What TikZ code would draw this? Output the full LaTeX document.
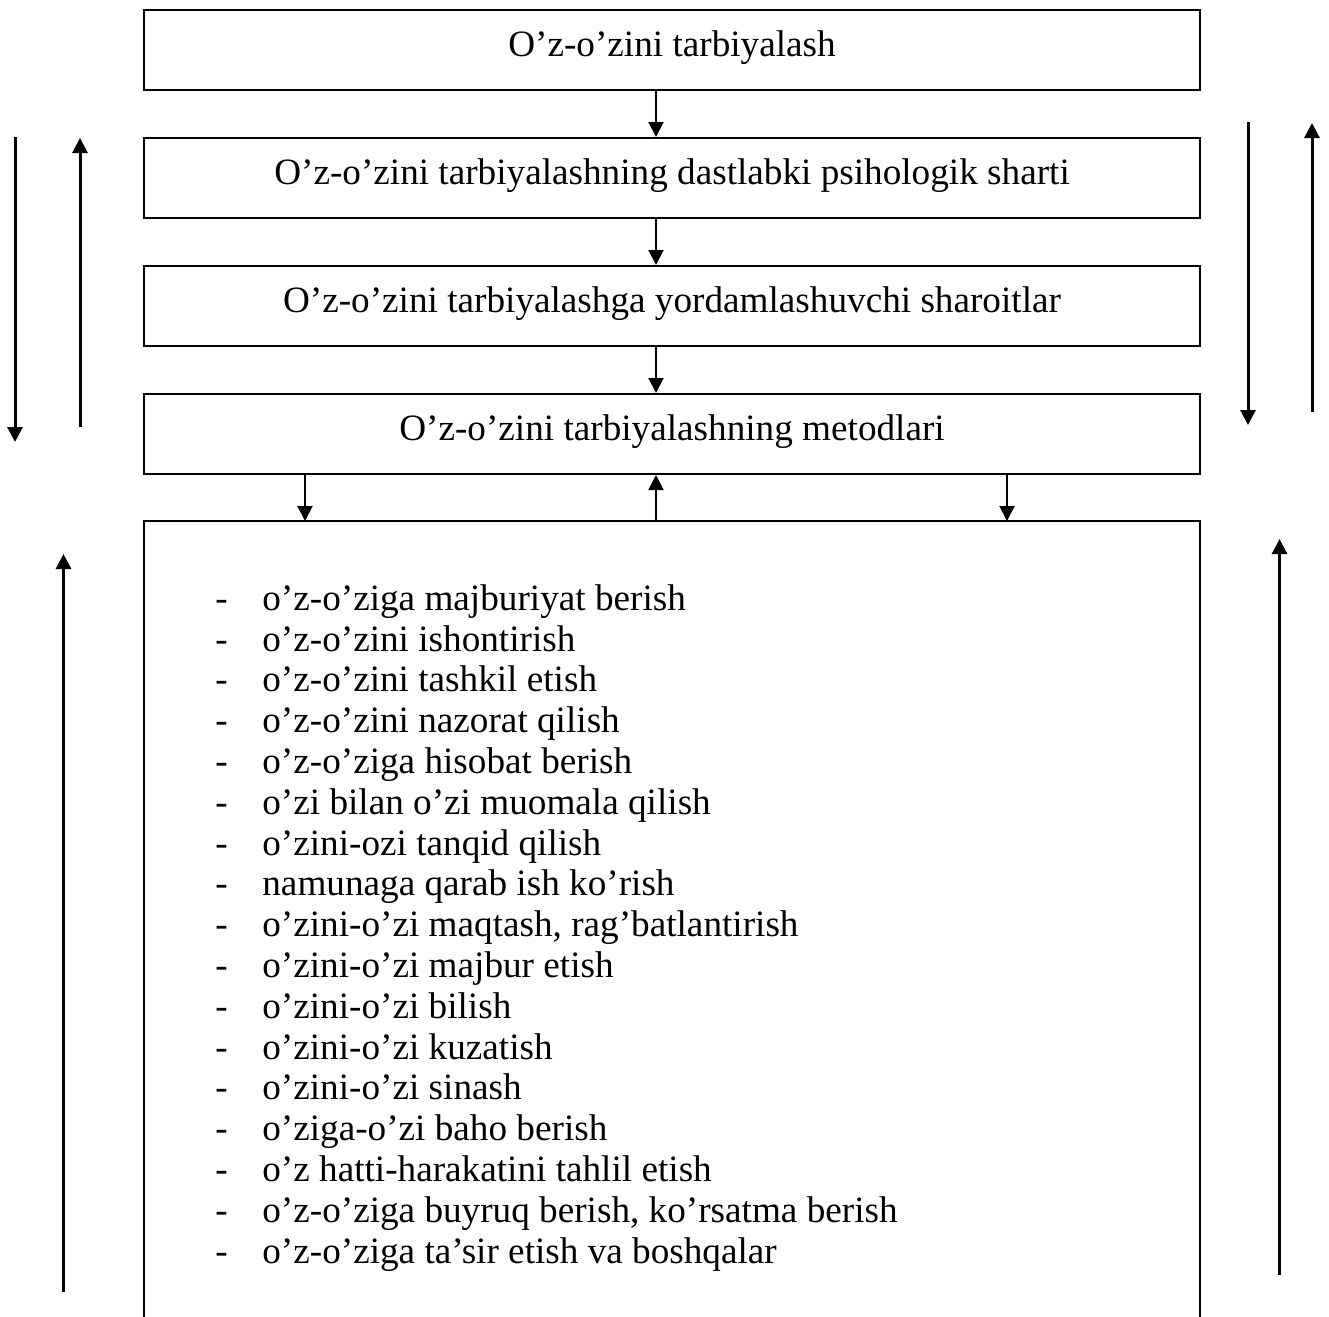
\documentclass[tikz,border=0pt]{standalone}
\usepackage{fontspec}
\setmainfont{Liberation Serif}
\usetikzlibrary{positioning,arrows.meta,calc}
\newcommand{\itm}[1]{\makebox[23.5pt][l]{-}#1}
\tikzset{
  stage/.style={draw, line width=1pt, minimum width=528pt, minimum height=40pt,
                inner sep=0pt, text height=13pt, text depth=7pt,
                font=\fontsize{18.6}{20.4}\selectfont},
  flow/.style={-{Triangle[length=7.5pt,width=7.5pt]}, line width=1pt},
  sideflow/.style={flow, line width=1.5pt},
  lst/.style={align=left, inner sep=0pt, font=\fontsize{18.6}{20.4}\selectfont}
}

\begin{document}
\begin{tikzpicture}[node distance=23pt]
        \useasboundingbox (0,0) rectangle (664.5pt,-658.5pt);
        \node[stage] (tarb) at (336pt,-25pt) {O’z-o’zini tarbiyalash};
        \node[stage, below=of tarb] (shart) {O’z-o’zini tarbiyalashning dastlabki psihologik sharti};
        \node[stage, below=of shart] (sharoit) {O’z-o’zini tarbiyalashga yordamlashuvchi sharoitlar};
        \node[stage, below=of sharoit] (metod) {O’z-o’zini tarbiyalashning metodlari};
        \node[minimum width=528pt, minimum height=397.5pt, inner sep=0pt, below=of metod] (frame) {};
        \draw[line width=1pt] (frame.south west) -- (frame.north west) -- (frame.north east) -- (frame.south east);
        \node[lst, anchor=north west] (items) at (107.5pt,-292pt) {%
          \itm{o’z-o’ziga majburiyat berish}\\
          \itm{o’z-o’zini ishontirish}\\
          \itm{o’z-o’zini tashkil etish}\\
          \itm{o’z-o’zini nazorat qilish}\\
          \itm{o’z-o’ziga hisobat berish}\\
          \itm{o’zi bilan o’zi muomala qilish}\\
          \itm{o’zini-ozi tanqid qilish}\\
          \itm{namunaga qarab ish ko’rish}\\
          \itm{o’zini-o’zi maqtash, rag’batlantirish}\\
          \itm{o’zini-o’zi majbur etish}\\
          \itm{o’zini-o’zi bilish}\\
          \itm{o’zini-o’zi kuzatish}\\
          \itm{o’zini-o’zi sinash}\\
          \itm{o’ziga-o’zi baho berish}\\
          \itm{o’z hatti-harakatini tahlil etish}\\
          \itm{o’z-o’ziga buyruq berish, ko’rsatma berish}\\
          \itm{o’z-o’ziga ta’sir etish va boshqalar}};
        % arrows between the stages
        \draw[flow] ([xshift=-8pt]tarb.south) -- ([xshift=-8pt]shart.north);
        \draw[flow] ([xshift=-8pt]shart.south) -- ([xshift=-8pt]sharoit.north);
        \draw[flow] ([xshift=-8pt]sharoit.south) -- ([xshift=-8pt]metod.north);
        \draw[flow] ([xshift=-183.5pt]metod.south) -- ([xshift=-183.5pt]frame.north);
        \draw[flow] ([xshift=-8pt]frame.north) -- ([xshift=-8pt]metod.south);
        \draw[flow] ([xshift=167.5pt]metod.south) -- ([xshift=167.5pt]frame.north);
        % side arrows
        \coordinate (ldtop) at (7.5pt,-68.5pt);
        \coordinate (ldbot) at (7.5pt,-221pt);
        \coordinate (lutop) at (40pt,-69pt);
        \coordinate (lubot) at (40pt,-213.5pt);
        \coordinate (rdtop) at (624pt,-61pt);
        \coordinate (rdbot) at (624pt,-212.5pt);
        \coordinate (rutop) at (656pt,-61.5pt);
        \coordinate (rubot) at (656pt,-206pt);
        \coordinate (lltop) at (31.75pt,-277pt);
        \coordinate (llbot) at (31.75pt,-646pt);
        \coordinate (lrtop) at (639.75pt,-269.5pt);
        \coordinate (lrbot) at (639.75pt,-637.5pt);
        \draw[sideflow] (ldtop) -- (ldbot);
        \draw[sideflow] (lubot) -- (lutop);
        \draw[sideflow] (rdtop) -- (rdbot);
        \draw[sideflow] (rubot) -- (rutop);
        \draw[sideflow] (llbot) -- (lltop);
        \draw[sideflow] (lrbot) -- (lrtop);
      \end{tikzpicture}
\end{document}
